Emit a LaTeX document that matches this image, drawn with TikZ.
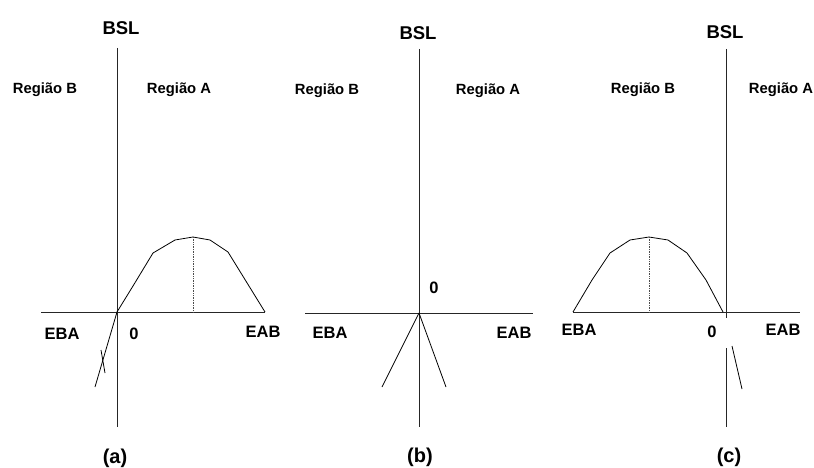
\documentclass[tikz,border=0pt]{standalone}
\usepackage{fontspec}
\setmainfont{Liberation Sans}
\begin{document}
\begin{tikzpicture}[x=1pt,y=-1pt,
  axisline/.style={line width=0.9pt,black!85},
  crvline/.style={line width=0.8pt,black,line join=round},
  dotline/.style={line width=0.7pt,black!70,densely dotted},
  lbltxt/.style={inner sep=0pt,font=\bfseries\fontsize{14.8}{16}\selectfont},
  bigtxt/.style={inner sep=0pt,font=\bfseries\fontsize{18.5}{20}\selectfont},
  axltxt/.style={inner sep=0pt,font=\bfseries\fontsize{16.5}{18}\selectfont},
  captxt/.style={inner sep=0pt,font=\bfseries\fontsize{20}{22}\selectfont}]
\useasboundingbox (0,0) rectangle (814,468);
% ---------- (a) ----------
\coordinate (aT) at (117,48);
\coordinate (aB) at (117,427);
\coordinate (aL) at (41,312);
\coordinate (aR) at (265,312);
\coordinate (aO) at (117,312);
\coordinate (aP) at (193,237);
\coordinate (aPb) at (193,312);
\coordinate (aD) at (95,387);
\coordinate (aX1) at (101,350);
\coordinate (aX2) at (105,373);
\draw[axisline] (aT) -- (aB);
\draw[axisline] (aL) -- (aR);
\draw[crvline] (aO) -- (133,286) -- (153,253) -- (175,240) -- (aP) -- (210,240) -- (228,252) -- (aR);
\draw[dotline] (aP) -- (aPb);
\draw[crvline] (aO) -- (aD);
\draw[crvline] (aX1) -- (aX2);
\node[bigtxt] (aBSL) at (121,28) {BSL};
\node[lbltxt] (aRB) at (45,90) {Região B};
\node[lbltxt] (aRA) at (179,90) {Região A};
\node[axltxt] (aEBA) at (62,334) {EBA};
\node[axltxt] (aZ) at (134,334) {0};
\node[axltxt] (aEAB) at (263,332) {EAB};
\node[captxt] (aC) at (115,458) {(a)};
% ---------- (b) ----------
\coordinate (bT) at (419,49);
\coordinate (bB) at (419,427);
\coordinate (bL) at (305,313);
\coordinate (bR) at (533,313);
\coordinate (bO) at (419,313);
\coordinate (bD1) at (382,387);
\coordinate (bD2) at (446,387);
\draw[axisline] (bT) -- (bB);
\draw[axisline] (bL) -- (bR);
\draw[crvline] (bD1) -- (bO) -- (bD2);
\node[bigtxt] (bBSL) at (418,33) {BSL};
\node[lbltxt] (bRB) at (327,91) {Região B};
\node[lbltxt] (bRA) at (488,91) {Região A};
\node[axltxt] (bZ) at (434,288) {0};
\node[axltxt] (bEBA) at (330,333) {EBA};
\node[axltxt] (bEAB) at (514,333) {EAB};
\node[captxt] (bC) at (420,457) {(b)};
% ---------- (c) ----------
\coordinate (cT) at (726,49);
\coordinate (cM) at (726,318);
\coordinate (cM2) at (726,348);
\coordinate (cB) at (726,427);
\coordinate (cL) at (573,312);
\coordinate (cR) at (800,312);
\coordinate (cE) at (723,312);
\coordinate (cP) at (649,237);
\coordinate (cPb) at (649,312);
\coordinate (cS1) at (732,346);
\coordinate (cS2) at (742,389);
\draw[axisline] (cT) -- (cM);
\draw[axisline] (cM2) -- (cB);
\draw[axisline] (cL) -- (cR);
\draw[crvline] (cL) -- (592,280) -- (610,253) -- (630,240) -- (cP) -- (668,240) -- (687,253) -- (706,280) -- (cE);
\draw[dotline] (cP) -- (cPb);
\draw[crvline] (cS1) -- (cS2);
\node[bigtxt] (cBSL) at (725,32) {BSL};
\node[lbltxt] (cRB) at (643,90) {Região B};
\node[lbltxt] (cRA) at (781,90) {Região A};
\node[axltxt] (cEBA) at (579,330) {EBA};
\node[axltxt] (cZ) at (712,332) {0};
\node[axltxt] (cEAB) at (783,330) {EAB};
\node[captxt] (cC) at (729,457) {(c)};
\end{tikzpicture}
\end{document}
